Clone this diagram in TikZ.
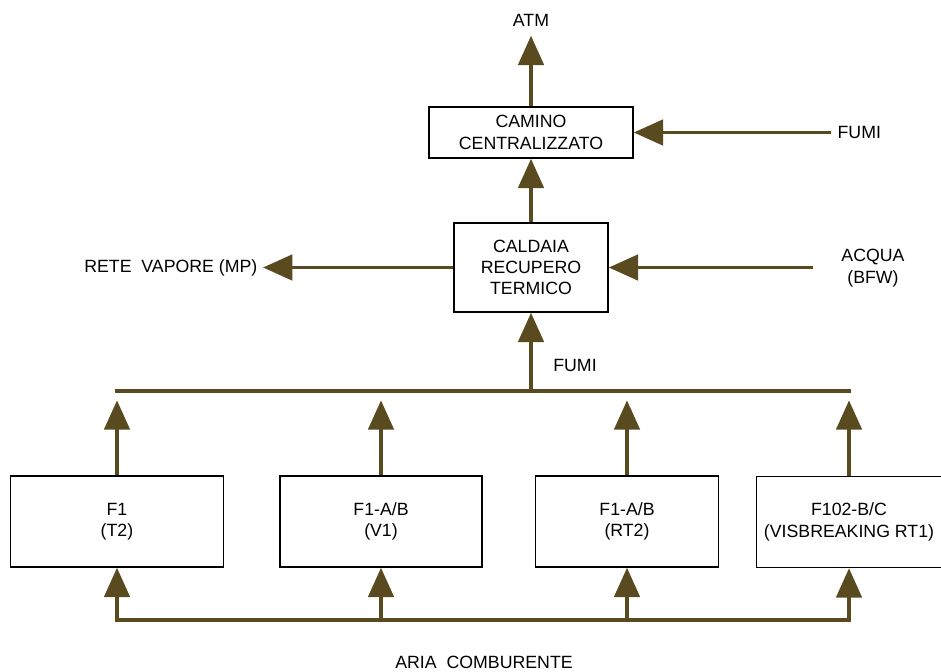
\documentclass[tikz,border=0pt]{standalone}
\usepackage{fontspec}
\setmainfont{Liberation Sans}
\usetikzlibrary{arrows.meta,positioning}
\definecolor{Bronze}{HTML}{594A20}
\tikzset{
  unitbox/.style={draw=black, line width=1.1pt, align=center,
    font=\fontsize{13.3}{16}\selectfont, inner sep=0pt, fill=white},
  lbl/.style={align=center, font=\fontsize{13.3}{16}\selectfont, inner sep=1pt},
  flowarr/.style={-{Triangle[length=22pt,width=19pt]}, line width=2.8pt, draw=Bronze},
  busline/.style={line width=2.8pt, draw=Bronze, line cap=rect},
}
\begin{document}
\begin{tikzpicture}[x=0.75pt, y=-0.75pt]
  \useasboundingbox (0,0) rectangle (941,671);
  % upper part
  \node[unitbox, minimum width=153pt, minimum height=38.25pt]
    (camino) at (531,132.5) {CAMINO\\CENTRALIZZATO};
  \node[unitbox, minimum width=115.5pt, minimum height=66.75pt]
    (caldaia) at (531,267.5) {CALDAIA\\RECUPERO\\TERMICO};
  \node[lbl] (atm) at (531,20) {ATM};
  \node[lbl, anchor=west] (fumitop) at (836,132.5) {FUMI};
  \node[lbl, anchor=east] (rete) at (259,267.5) {RETE\ \ VAPORE (MP)};
  \node[lbl] (acqua) at (873,268) {ACQUA\\(BFW)};
  \node[lbl] (fumimid) at (575,365) {FUMI};
  \node[lbl] (aria) at (484,662) {ARIA\ \ COMBURENTE};
  % forni
  \node[unitbox, minimum width=159.75pt, minimum height=68.25pt]
    (f1) at (117,521.5) {F1\\(T2)};
  \node[unitbox, minimum width=151.5pt, minimum height=68.25pt]
    (f2) at (381,521.5) {F1-A/B\\(V1)};
  \node[unitbox, minimum width=137.25pt, minimum height=68.25pt]
    (f3) at (627,521.5) {F1-A/B\\(RT2)};
  \node[unitbox, minimum width=139pt, minimum height=68.25pt]
    (f4) at (849,522) {F102-B/C\\(VISBREAKING RT1)};
  \coordinate (fumibus) at (0,391);
  \coordinate (ariabus) at (0,620);
  % connectors
  \draw[flowarr, shorten >=6pt] (camino.north) -- (atm.south);
  \draw[flowarr, shorten <=4pt] (fumitop.west) -- (camino.east);
  \draw[flowarr] (caldaia.north) -- (camino.south);
  \draw[flowarr, shorten >=3pt] (caldaia.west) -- (rete.east);
  \draw[flowarr, shorten <=20pt] (acqua.west |- caldaia.east) -- (caldaia.east);
  \draw[busline] (f1.north |- fumibus) -- (f4.north |- fumibus);
  \draw[flowarr] (caldaia.south |- fumibus) -- (caldaia.south);
  \draw[busline] (f1.south |- ariabus) -- (f4.south |- ariabus);
  \foreach \f in {f1,f2,f3,f4} {
    \draw[flowarr, shorten >=7pt] (\f.north) -- (\f.north |- fumibus);
    \draw[flowarr] (\f.south |- ariabus) -- (\f.south);
  }
\end{tikzpicture}
\end{document}
